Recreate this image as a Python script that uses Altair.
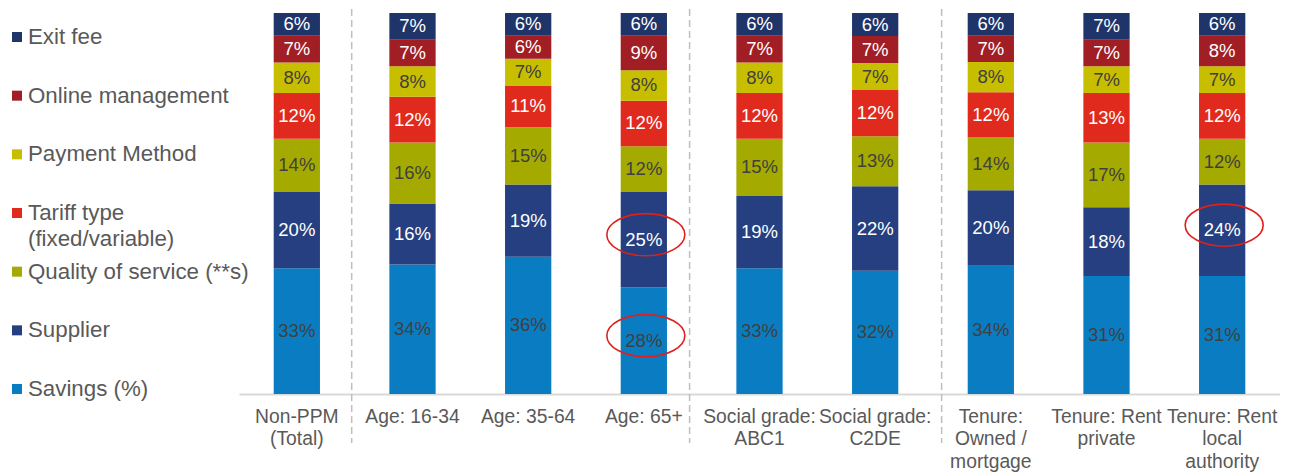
import altair as alt
import pandas as pd

categories = ["Non-PPM\n(Total)", "Age: 16-34", "Age: 35-64", "Age: 65+",
              "Social grade:\nABC1", "Social grade:\nC2DE",
              "Tenure:\nOwned /\nmortgage", "Tenure: Rent\nprivate",
              "Tenure: Rent\nlocal\nauthority"]

# segments listed bottom -> top
segments = ["Savings (%)", "Supplier", "Quality of service (**s)",
            "Tariff type\n(fixed/variable)", "Payment Method",
            "Online management", "Exit fee"]

savings = [33, 34, 36, 28, 33, 32, 34, 31, 31]
supplier = [20, 16, 19, 25, 19, 22, 20, 18, 24]
quality = [14, 16, 15, 12, 15, 13, 14, 17, 12]
tariff = [12, 12, 11, 12, 12, 12, 12, 13, 12]
payment = [8, 8, 7, 8, 8, 7, 8, 7, 7]
online = [7, 7, 6, 9, 7, 7, 7, 7, 8]
exitfee = [6, 7, 6, 6, 6, 6, 6, 7, 6]

series = [savings, supplier, quality, tariff, payment, online, exitfee]

colors = ["#0A7DC2", "#253F80", "#A4AA00", "#E12A1E", "#C8BE00", "#A01E24", "#1F3469"]
label_colors = ["#404040", "#FFFFFF", "#404040", "#FFFFFF", "#404040", "#FFFFFF", "#FFFFFF"]

highlighted = [("Age: 65+", "Supplier"), ("Age: 65+", "Savings (%)"),
               ("Tenure: Rent\nlocal\nauthority", "Supplier")]

rows = []
for si, (seg, vals) in enumerate(zip(segments, series)):
    for ci, cat in enumerate(categories):
        rows.append({"cat": cat, "seg": seg, "value": vals[ci], "order": si,
                     "txtcol": label_colors[si],
                     "hl": (cat, seg) in highlighted})
df = pd.DataFrame(rows)

leg = pd.DataFrame({"seg": segments[::-1], "idx": list(range(len(segments)))})

H = 381
W = 1041
FONT = "Liberation Sans"

xscale = alt.Scale(domain=categories, paddingInner=0.6, paddingOuter=0.3)
yscale = alt.Scale(domain=[0, 1])
color_scale = alt.Scale(domain=segments, range=colors)

base = alt.Chart(df).transform_stack(
    stack="value", groupby=["cat"], sort=[alt.SortField("order", "ascending")],
    as_=["y0", "y1"], offset="normalize"
).transform_calculate(
    mid="(datum.y0 + datum.y1) / 2", label="datum.value + '%'"
)

xaxis = alt.Axis(title=None, labelAngle=0, ticks=False, labelAlign="center",
                 domainColor="#D9D9D9", domainWidth=2,
                 labelFont=FONT, labelFontSize=19.3, labelColor="#595959",
                 labelLineHeight=22.5, labelPadding=13,
                 labelExpr="split(datum.label, '\\n')")
xenc = alt.X("cat:N", scale=xscale, sort=categories, axis=xaxis)

bars = base.mark_bar().encode(
    x=xenc,
    y=alt.Y("y0:Q", scale=yscale, axis=None),
    y2="y1:Q",
    color=alt.Color("seg:N", scale=color_scale, legend=None),
)

texts = base.mark_text(font=FONT, fontSize=18.5, baseline="middle").encode(
    x=xenc,
    y=alt.Y("mid:Q", scale=yscale, axis=None),
    text="label:N",
    color=alt.Color("txtcol:N", scale=None),
)

ellipse_path = ("M -1 0 C -1 -0.298 -0.552 -0.54 0 -0.54 C 0.552 -0.54 1 -0.298 1 0 "
                "C 1 0.298 0.552 0.54 0 0.54 C -0.552 0.54 -1 0.298 -1 0 Z")
ellipses = base.transform_filter("datum.hl").mark_point(
    shape=ellipse_path, filled=False, stroke="#E0201B", strokeWidth=1.6,
    size=78 * 78, opacity=1, yOffset=-5, xOffset=2
).encode(
    x=xenc,
    y=alt.Y("mid:Q", scale=yscale, axis=None),
)

sep_src = alt.Chart(pd.DataFrame({"cat": categories}))


def sep(cat, off):
    return sep_src.transform_filter(alt.datum.cat == cat).mark_rule(
        stroke="#BFBFBF", strokeWidth=1.5, strokeDash=[7, 4], xOffset=off
    ).encode(
        x=xenc,
        y=alt.value(-4), y2=alt.value(H + 49),
    )


seps = sep(categories[1], -60.8) + sep(categories[4], -69.9) + sep(categories[6], -49.2)

# legend drawn to the left of the plot area
lscale = alt.Scale(domain=[-0.409, 6.085], reverse=True)
leg_base = alt.Chart(leg)
leg_sq = leg_base.mark_square(size=100, opacity=1).encode(
    x=alt.value(-222),
    y=alt.Y("idx:Q", scale=lscale, axis=None),
    color=alt.Color("seg:N", scale=color_scale, legend=None),
)
leg_tx = leg_base.mark_text(font=FONT, fontSize=22.3, align="left", baseline="top",
                            dy=-10.9, lineBreak="\n", lineHeight=26,
                            color="#595959").encode(
    x=alt.value(-211),
    y=alt.Y("idx:Q", scale=lscale, axis=None),
    text="seg:N",
)

chart = alt.layer(seps, bars, texts, ellipses, leg_sq, leg_tx).resolve_scale(
    y="independent"
).properties(
    width=W, height=H,
    padding={"left": 4, "top": 0, "right": 0, "bottom": 0}
).configure_view(stroke=None)

chart.save("out.html", embed_options={"renderer": "svg", "actions": False})
